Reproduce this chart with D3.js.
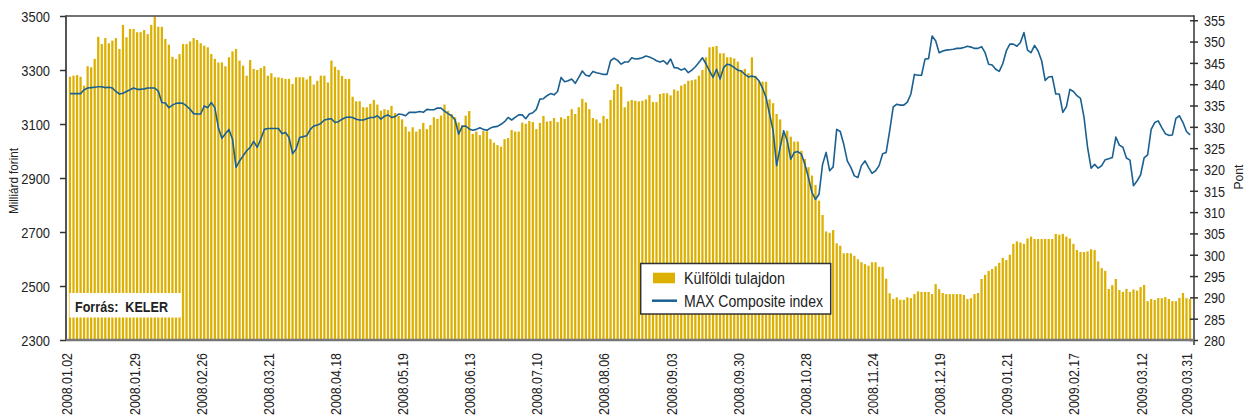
<!DOCTYPE html>
<html><head><meta charset="utf-8">
<script src="https://cdn.jsdelivr.net/npm/d3@7"></script>
<style>
html,body{margin:0;padding:0;background:#fff;}
text{font-family:"Liberation Sans",Arial,sans-serif;fill:#222;}
</style></head><body>
<svg id="c" width="1249" height="420"></svg>
<script>
// Külföldi tulajdon (milliárd forint), one bar per trading day
const foreignHoldings = [
3275,3279,3281,3275,3242,3314,3310,3341,3423,3396,
3418,3399,3409,3418,3378,3467,3421,3452,3452,3440,
3440,3448,3433,3467,3497,3460,3460,3415,3394,3349,
3341,3359,3396,3396,3406,3418,3411,3399,3390,3384,
3359,3341,3328,3328,3314,3347,3369,3378,3335,3316,
3279,3337,3304,3300,3307,3314,3279,3288,3273,3273,
3270,3267,3267,3248,3273,3273,3273,3265,
3278,3246,3260,3279,3279,3254,3335,3312,3300,3278,
3267,3267,3201,3184,3184,3162,3162,3175,
3189,3172,3149,3155,3152,3167,3141,3130,3117,3090,
3072,3088,3072,3081,3104,3081,3096,3125,3119,3131,
3172,3149,3137,3125,3106,3096,3131,3148,3063,3072,
3059,3075,3073,3044,3031,3022,3016,3044,3048,3078,
3072,3072,3105,3101,3111,3107,3081,3104,3130,3109,
3111,3122,3107,3125,3119,3130,3155,3137,3162,3193,
3180,3155,3122,3117,3104,3130,3119,3189,3226,3248,3238,3162,
3184,3189,3186,3184,3186,3191,3207,3181,3181,3211,
3214,3214,3206,3228,3223,3242,3248,3260,3262,3265,
3279,3300,3347,3384,3386,3389,3362,3362,3347,3347,
3343,3331,3300,3304,3288,3347,3279,3260,3257,3256,
3191,3177,3137,3117,3065,3075,3053,3035,3035,3001,
2970,2940,2909,2874,2816,2763,2702,2697,2707,2658,
2649,2621,2622,2621,2612,2599,2588,2581,2575,2588,
2588,2571,2571,2527,2473,2452,2458,2449,2449,2458,
2455,2470,2480,2478,2478,2478,2470,2507,2488,2474,
2470,2470,2470,2470,2470,2467,2452,2455,2470,2474,
2526,2541,2556,2563,2573,2586,2604,2596,2616,2656,
2665,2661,2656,2676,2683,2674,2674,2674,2674,2674,2674,
2693,2690,2693,2683,2676,2656,2633,2626,2626,2628,2636,2633,2591,
2566,2556,2489,2503,2526,2485,2478,2489,2478,2487,
2483,2496,2504,2444,2452,2448,2455,2455,2459,2452,
2444,2444,2456,2474,2455,2452
];
// MAX Composite index (pont)
const maxIndex = [
337.8,337.8,337.8,337.8,338.7,339.1,339.2,339.3,339.4,339.4,
339.2,339.3,339.1,338.3,337.7,337.9,338.3,338.7,339.1,338.8,
338.8,338.9,339.1,339.1,339.1,338.4,335.7,335.6,334.5,335.1,
335.5,335.6,335.5,334.9,334.1,333.1,333.0,333.0,334.9,334.5,
335.7,334.5,329.8,327.3,328.4,329.4,327.1,320.5,322.0,323.2,
324.4,325.2,326.6,325.2,327.1,329.4,329.6,329.6,329.6,329.6,
328.4,328.7,327.5,323.7,324.8,327.5,327.7,327.9,329.4,330.2,
330.4,330.8,331.6,331.8,331.9,331.0,331.2,331.8,332.2,
332.3,332.2,331.8,331.6,331.6,331.9,332.2,332.2,332.6,331.8,
332.5,332.8,332.2,332.4,333.0,332.9,332.6,333.4,333.4,333.4,
333.6,333.4,334.1,334.0,334.0,334.4,334.4,333.7,333.1,332.6,
331.6,328.3,330.1,330.2,329.5,329.2,329.4,329.8,329.4,329.2,
329.7,330.0,330.1,330.6,331.2,332.2,331.6,332.2,332.8,332.8,
331.9,333.0,333.3,334.1,336.5,336.6,337.3,337.8,337.5,338.3,
341.6,340.6,340.8,341.2,340.2,341.6,343.1,342.1,341.9,343.0,
342.7,342.5,342.3,342.3,345.5,346.1,345.6,344.7,345.2,
345.2,346.2,345.9,346.0,346.2,346.6,346.4,346.0,345.5,345.2,
345.5,344.7,345.9,343.9,343.8,343.3,343.7,342.7,343.3,344.1,
345.1,346.2,344.8,343.1,341.6,343.5,341.2,343.9,344.7,344.5,
343.9,343.3,343.1,342.3,341.7,341.9,341.7,340.8,339.1,336.9,
333.0,329.1,320.9,325.2,329.1,326.7,322.4,324.0,324.2,323.6,
321.2,318.1,314.6,313.0,314.2,321.2,324.0,319.7,320.6,329.4,
328.9,325.9,322.0,320.5,318.5,318.1,320.9,322.0,320.5,319.1,
319.7,320.9,323.7,324.0,329.1,334.7,335.3,335.1,335.1,335.8,
337.7,342.3,342.1,342.1,345.9,346.0,351.3,350.2,347.4,347.8,
348.0,348.1,348.2,348.4,348.4,348.6,348.9,348.7,348.4,348.4,
348.8,347.4,344.7,344.5,343.5,343.0,344.8,347.8,349.4,349.4,
348.9,349.8,352.1,348.0,347.4,349.1,347.8,345.5,340.9,341.7,
341.8,337.7,337.7,333.4,334.7,338.8,338.3,337.3,336.7,332.2,
325.2,320.3,321.2,320.3,320.9,322.3,322.5,322.8,327.6,325.7,
325.2,322.7,322.2,316.2,317.3,318.7,322.7,323.4,329.4,331.0,
331.4,329.8,328.4,328.0,328.1,332.0,332.6,331.0,328.9,328.1
];
const tickLabels = ["2008.01.02","2008.01.29","2008.02.26","2008.03.21","2008.04.18","2008.05.19",
  "2008.06.13","2008.07.10","2008.08.06","2008.09.03","2008.09.30","2008.10.28","2008.11.24",
  "2008.12.19","2009.01.21","2009.02.17","2009.03.12","2009.03.31"];
const tickBars = [0,19,38,57,76,95,114,133,152,171,190,209,228,247,266,285,304,317];
const leftTicks = [2300,2500,2700,2900,3100,3300,3500];
const rightTicks = [280,285,290,295,300,305,310,315,320,325,330,335,340,345,350,355];
const seriesNames = ["Külföldi tulajdon","MAX Composite index"];
const leftTitle = "Milliárd forint", rightTitle = "Pont", sourceText = "Forrás:  KELER";

const BAR = "#dcb000", LINE = "#1a6090";
const L = 66, R = 1194, T = 16, B = 340;
const svg = d3.select("#c");
const n = foreignHoldings.length;
const x = d3.scaleBand().domain(d3.range(n)).range([68.2, 1191.8]).paddingInner(0.36).paddingOuter(0.18);
const yL = d3.scaleLinear().domain([2300, 3500]).range([B, T]);
const yR = d3.scaleLinear().domain([280, 356]).range([B, T]);
const cx = i => x(i) + x.bandwidth() / 2;
// condensed look: squeeze text to a width proportional to its natural width
function squeeze(sel, k) {
  sel.each(function () {
    const w = this.getComputedTextLength();
    d3.select(this).attr("textLength", w * k).attr("lengthAdjust", "spacingAndGlyphs");
  });
}

svg.append("g").selectAll("rect").data(foreignHoldings).join("rect")
  .attr("x", (d, i) => x(i)).attr("width", x.bandwidth())
  .attr("y", d => yL(d)).attr("height", d => B - yL(d)).attr("fill", BAR);

svg.append("path").datum(maxIndex)
  .attr("d", d3.line().x((d, i) => cx(i)).y(d => yR(d)))
  .attr("fill", "none").attr("stroke", LINE).attr("stroke-width", 1.6).attr("stroke-linejoin", "round");

// frame
svg.append("line").attr("x1", L).attr("x2", R).attr("y1", T).attr("y2", T).attr("stroke", "#444").attr("stroke-width", 1.5);
svg.append("line").attr("x1", L).attr("x2", L).attr("y1", T - 0.7).attr("y2", B).attr("stroke", "#555").attr("stroke-width", 2);
svg.append("line").attr("x1", R).attr("x2", R).attr("y1", T - 0.7).attr("y2", B + 5).attr("stroke", "#333").attr("stroke-width", 1.5);

// left axis
const gl = svg.append("g").attr("transform", `translate(${L},0)`)
  .call(d3.axisLeft(yL).tickValues(leftTicks).tickSize(6).tickPadding(10).tickFormat(d3.format("d")));
gl.select(".domain").remove();
gl.selectAll(".tick line").attr("stroke", "#333").attr("stroke-width", 1.5);
gl.selectAll("text").style("font-size", "15px").attr("fill", "#222").attr("dy", "0.36em");
squeeze(gl.selectAll("text"), 0.86);

// right axis
const gr = svg.append("g").attr("transform", `translate(${R},0)`)
  .call(d3.axisRight(yR).tickValues(rightTicks).tickSize(4).tickPadding(6).tickFormat(d3.format("d")));
gr.select(".domain").remove();
gr.selectAll(".tick line").attr("x1", -4).attr("stroke", "#333").attr("stroke-width", 1.5);
gr.selectAll("text").style("font-size", "15px").attr("fill", "#222").attr("dy", "0.36em");
squeeze(gr.selectAll("text"), 0.84);

// bottom axis
const gb = svg.append("g").attr("transform", `translate(0,${B})`)
  .call(d3.axisBottom(x).tickValues(tickBars).tickSize(0).tickFormat((d, k) => tickLabels[k]));
gb.select(".domain").remove();
gb.selectAll("text").attr("transform", "rotate(-90)").attr("x", -13).attr("y", -3).attr("dy", "0.36em")
  .style("text-anchor", "end").style("font-size", "15px").attr("fill", "#222");
gb.selectAll("text").attr("textLength", 62).attr("lengthAdjust", "spacingAndGlyphs");
svg.append("line").attr("x1", L).attr("x2", R).attr("y1", B).attr("y2", B).attr("stroke", "#777").attr("stroke-width", 2.5);

// axis titles
svg.append("text").attr("transform", "translate(18,181) rotate(-90)").attr("text-anchor", "middle")
  .style("font-size", "12px").attr("textLength", 66).attr("lengthAdjust", "spacingAndGlyphs").text(leftTitle);
svg.append("text").attr("transform", "translate(1243,177) rotate(-90)").attr("text-anchor", "middle")
  .style("font-size", "13.5px").attr("textLength", 25).attr("lengthAdjust", "spacingAndGlyphs").text(rightTitle);

// source box
svg.append("rect").attr("x", 69.5).attr("y", 293).attr("width", 111.5).attr("height", 24.5).attr("fill", "#fff");
svg.append("text").attr("x", 75).attr("y", 312).style("font-size", "15.5px").style("font-weight", "bold")
  .style("white-space", "pre").attr("textLength", 93).attr("lengthAdjust", "spacingAndGlyphs").text(sourceText);

// legend
const lg = svg.append("g");
lg.append("rect").attr("x", 640.7).attr("y", 263.5).attr("width", 190).attr("height", 50.5)
  .attr("fill", "#fff").attr("stroke", "#333").attr("stroke-width", 1.5);
lg.append("rect").attr("x", 653).attr("y", 272.7).attr("width", 22).attr("height", 10.6).attr("fill", BAR);
lg.append("line").attr("x1", 652).attr("x2", 677).attr("y1", 300.7).attr("y2", 300.7).attr("stroke", LINE).attr("stroke-width", 2.5);
lg.append("text").attr("x", 684).attr("y", 284).style("font-size", "16px")
  .attr("textLength", 101).attr("lengthAdjust", "spacingAndGlyphs").text(seriesNames[0]);
lg.append("text").attr("x", 684).attr("y", 307).style("font-size", "16px")
  .attr("textLength", 139).attr("lengthAdjust", "spacingAndGlyphs").text(seriesNames[1]);
</script></body></html>
